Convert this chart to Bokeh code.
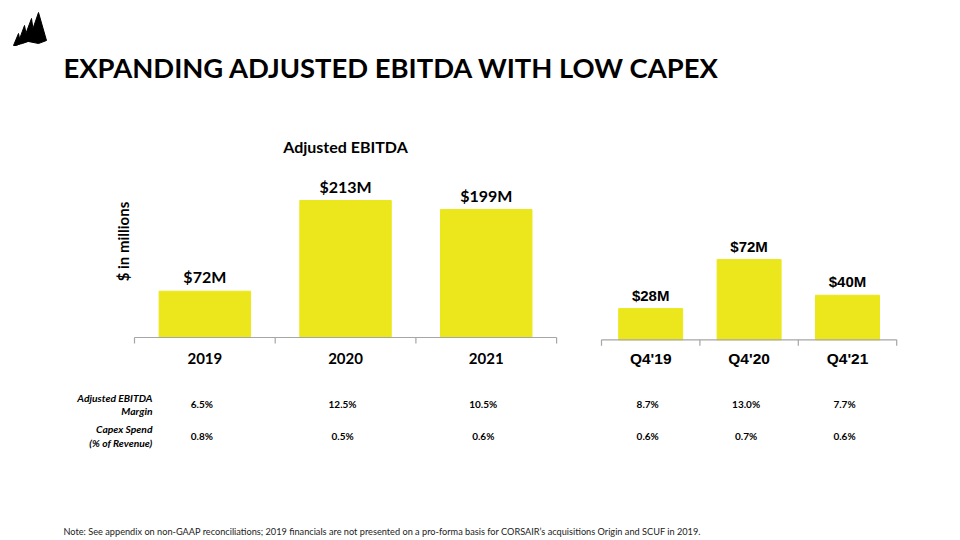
import math
from bokeh.plotting import figure
from bokeh.models import Range1d, Label
from bokeh.core.properties import value
from bokeh.embed import file_html
from bokeh.resources import INLINE

# ---------------- data ----------------
years = ["2019", "2020", "2021"]
ebitda_year = [72, 213, 199]
ebitda_year_labels = ["$72M", "$213M", "$199M"]
margin_year = ["6.5%", "12.5%", "10.5%"]
capex_year = ["0.8%", "0.5%", "0.6%"]

quarters = ["Q4'19", "Q4'20", "Q4'21"]
ebitda_q = [28, 72, 40]
ebitda_q_labels = ["$28M", "$72M", "$40M"]
margin_q = ["8.7%", "13.0%", "7.7%"]
capex_q = ["0.6%", "0.7%", "0.6%"]

row_labels_1 = ["Adjusted EBITDA", "Margin"]
row_labels_2 = ["Capex Spend", "(% of Revenue)"]

title_text = "EXPANDING ADJUSTED EBITDA WITH LOW CAPEX"
chart_title = "Adjusted EBITDA"
y_label = "$ in millions"
note = ("Note: See appendix on non-GAAP reconciliations; 2019 financials are not presented on a "
        "pro-forma basis for CORSAIR\u2019s acquisitions Origin and SCUF in 2019.")

# ---------------- layout (pixels) ----------------
W, H = 960, 540
BAR = "#EBE71C"
AXIS = "#A6A6A6"
L_X0, L_W, L_BASE, L_SCALE = 134.0, 140.7, 337.0, 0.643
R_X0, R_W, R_BASE, R_SCALE = 601.0, 98.4, 339.3, 1.114

p = figure(width=W, height=H, output_backend="svg", toolbar_location=None,
           x_range=Range1d(0, W), y_range=Range1d(H, 0),
           x_axis_location=None, y_axis_location=None, min_border=0,
           outline_line_color=None)
p.grid.visible = False
p.background_fill_color = "white"

def xr(x0, w):
    return Range1d(-x0 / w - 0.5, (W - x0) / w - 0.5)

def yr(base, scale):
    return Range1d((base - H) / scale, base / scale)

p.extra_x_ranges = {"xl": xr(L_X0, L_W), "xq": xr(R_X0, R_W)}
p.extra_y_ranges = {"yl": yr(L_BASE, L_SCALE), "yq": yr(R_BASE, R_SCALE)}

CAL = value("Lato")
ARI = value("Liberation Sans")

def chart(xname, yname, cats, vals, labs, base, font, vsize, csize, margins, capex):
    idx = list(range(len(cats)))
    p.vbar(x=idx, top=vals, bottom=0, width=0.65, color=BAR,
           x_range_name=xname, y_range_name=yname)
    # axis line + ticks
    p.segment(x0=[-0.5], y0=[base], x1=[len(cats) - 0.5], y1=[base], line_color=AXIS,
              line_width=1.2, x_range_name=xname)
    ticks = [i - 0.5 for i in range(len(cats) + 1)]
    p.segment(x0=ticks, y0=[base] * len(ticks), x1=ticks, y1=[base + 6] * len(ticks),
              line_color=AXIS, line_width=1.2, x_range_name=xname)
    p.text(x=idx, y=vals, text=labs, x_range_name=xname, y_range_name=yname,
           text_align="center", text_baseline="bottom", y_offset=-5,
           text_font=font, text_font_style="bold", text_font_size=vsize, text_color="black")
    p.text(x=idx, y=[358] * 3, text=cats, x_range_name=xname,
           text_align="center", text_baseline="middle",
           text_font=font, text_font_style="bold", text_font_size=csize, text_color="black")
    p.text(x=idx, y=[403] * 3, text=margins, x_range_name=xname, x_offset=-3,
           text_align="center", text_baseline="middle",
           text_font=CAL, text_font_style="bold", text_font_size="10px", text_color="black")
    p.text(x=idx, y=[435] * 3, text=capex, x_range_name=xname, x_offset=-3,
           text_align="center", text_baseline="middle",
           text_font=CAL, text_font_style="bold", text_font_size="10px", text_color="black")

chart("xl", "yl", years, ebitda_year, ebitda_year_labels, L_BASE, CAL, "16px", "15px",
      margin_year, capex_year)
chart("xq", "yq", quarters, ebitda_q, ebitda_q_labels, R_BASE, ARI, "15px", "15.5px",
      margin_q, capex_q)

# row labels
p.text(x=[152, 152], y=[397, 410], text=row_labels_1, text_align="right", text_baseline="middle",
       text_font=CAL, text_font_style="bold italic", text_font_size="10.3px", text_color="black")
p.text(x=[152, 152], y=[428, 442], text=row_labels_2, text_align="right", text_baseline="middle",
       text_font=CAL, text_font_style="bold italic", text_font_size="10.3px", text_color="black")

# titles
p.text(x=[63], y=[67], text=[title_text], text_align="left", text_baseline="middle",
       text_font=CAL, text_font_style="bold", text_font_size="27.4px", text_color="black")
p.text(x=[345], y=[146], text=[chart_title], text_align="center", text_baseline="middle",
       text_font=CAL, text_font_style="bold", text_font_size="16px", text_color="black")
p.text(x=[63], y=[531], text=[note], text_align="left", text_baseline="middle",
       text_font=CAL, text_font_size="9.2px", text_color="#222222")

p.add_layout(Label(x=122, y=H - 241, x_units="screen", y_units="screen", text=y_label,
                   angle=math.pi / 2, text_align="center", text_baseline="middle",
                   text_font="Lato", text_font_style="bold", text_font_size="15px",
                   text_color="black"))

# logo (decorative sails)
sails_x = [[13, 18, 20, 16], [17, 24, 27, 22], [22, 31, 34, 28], [28, 38, 46, 38]]
sails_y = [[45, 33, 43, 45], [44, 25, 41, 43], [42, 18, 39, 41], [41, 12, 40, 43]]
p.patches(xs=sails_x, ys=sails_y, color="black")

open("out.html", "w").write(file_html(p, INLINE))
